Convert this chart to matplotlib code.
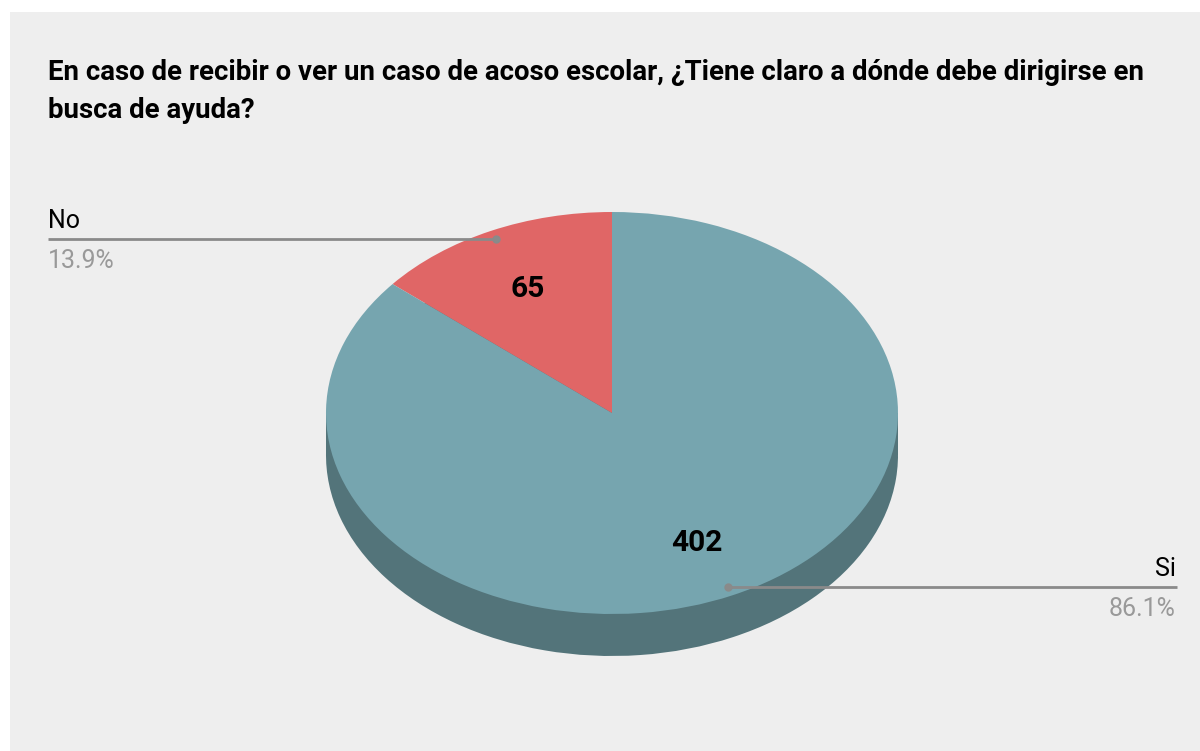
import matplotlib
matplotlib.use("Agg")
import matplotlib.pyplot as plt
from matplotlib.patches import Rectangle
import numpy as np

title = "En caso de recibir o ver un caso de acoso escolar, ¿Tiene claro a dónde debe dirigirse en\nbusca de ayuda?"
labels = ["No", "Si"]
values = [65, 402]
top_colors = ["#e06666", "#76a5af"]
side_colors = ["#9c4747", "#53747a"]

W, H = 1200, 751
cx, cy = 612, 413      # pie centre in pixels (from top)
rx, ry = 286, 201      # ellipse radii in pixels
depth = 42 / ry        # side thickness in unit radii

plt.rcParams["font.family"] = ["Roboto", "DejaVu Sans"]

fig = plt.figure(figsize=(W / 100, H / 100), dpi=100, facecolor="white")
bg = fig.add_axes([10 / W, 0, 1, 1 - 12 / H], zorder=-1)
bg.set_facecolor("#eeeeee")
bg.set_xticks([])
bg.set_yticks([])
for s in bg.spines.values():
    s.set_visible(False)

ax = fig.add_axes([0, 0, 1, 1])
ax.set_facecolor("none")
ax.axis("off")

# side (bottom copy + band) then top face
ax.pie(values, colors=side_colors, startangle=90, counterclock=True,
       center=(0, -depth), wedgeprops=dict(linewidth=0))
ax.add_patch(Rectangle((-1, -depth), 2, depth, facecolor=side_colors[1],
                       edgecolor="none"))
wedges, _ = ax.pie(values, colors=top_colors, startangle=90, counterclock=True,
                   wedgeprops=dict(linewidth=0))
ax.set_aspect("auto")
ax.set_xlim(-cx / rx, (W - cx) / rx)
ax.set_ylim(-(H - cy) / ry, cy / ry)

total = sum(values)
for w, lab, v in zip(wedges, labels, values):
    mid = np.deg2rad((w.theta1 + w.theta2) / 2)
    # value inside slice
    ax.text(0.7 * np.cos(mid), 0.7 * np.sin(mid) - 3 / ry, str(v), ha="center",
            va="center", fontsize=21.5, fontweight="bold", color="black")
    # leader line
    px, py = 0.955 * np.cos(mid), 0.955 * np.sin(mid)
    if px < 0:
        ex = (48 - cx) / rx
        ha = "left"
    else:
        ex = (1177 - cx) / rx
        ha = "right"
    ax.plot([px, ex], [py, py], color="#8a8a8a", lw=2, solid_capstyle="butt")
    ax.plot([px], [py], "o", color="#8a8a8a", ms=5)
    tx = ex if px < 0 else ex - 1 / rx
    ax.text(tx, py + 11 / ry, lab, ha=ha, va="baseline", fontsize=18, color="black")
    ax.text(tx, py - 29 / ry, f"{v / total * 100:.1f}%", ha=ha, va="baseline",
            fontsize=18, color="#999999")

fig.text(48 / W, 1 - 80 / H, title.split("\n")[0], ha="left", va="baseline",
         fontsize=19.9, fontweight="bold", color="black")
fig.text(48 / W, 1 - 118 / H, title.split("\n")[1], ha="left", va="baseline",
         fontsize=19.9, fontweight="bold", color="black")

fig.savefig("out.png", dpi=100, facecolor="white")
